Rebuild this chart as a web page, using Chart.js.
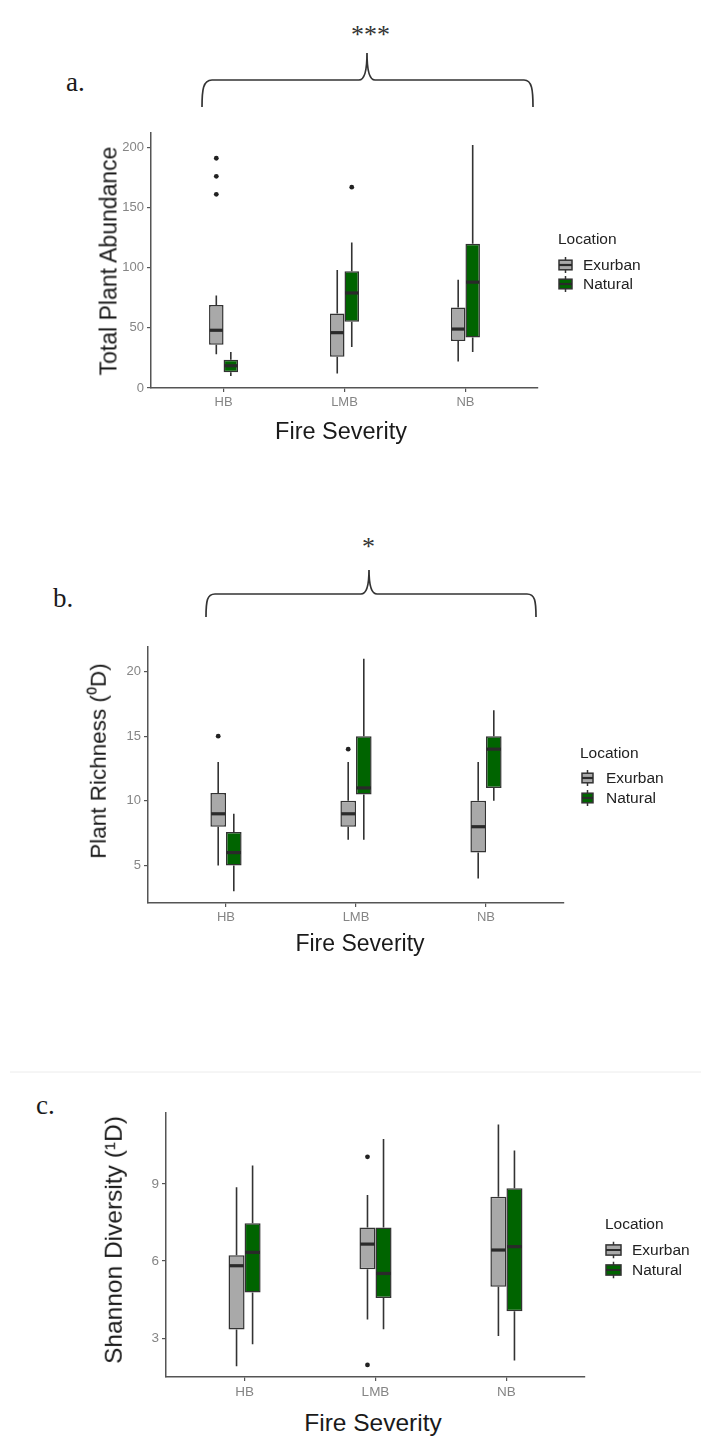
<!DOCTYPE html>
<html>
<head>
<meta charset="utf-8">
<script src="https://cdn.jsdelivr.net/npm/chart.js@4.4.1/dist/chart.umd.min.js"></script>
<style>
  body { margin: 0; background: #fff; }
  #page { position: relative; width: 701px; height: 1444px; overflow: hidden; font-family: "Liberation Sans", Arial, sans-serif; }
  canvas { position: absolute; }
  .t { position: absolute; white-space: nowrap; line-height: 1; transform: translateY(-50%); color: #1a1a1a; }
  .serif { font-family: "Liberation Serif", "Times New Roman", serif; }
  .ytitle { position: absolute; white-space: nowrap; line-height: 1; color: #1a1a1a; transform: translate(-50%, -50%) rotate(-90deg); }
  .xtitle { position: absolute; white-space: nowrap; line-height: 1; color: #1a1a1a; transform: translate(-50%, -50%); }
  .leg { position: absolute; overflow: hidden; font-size: 15.5px; color: #222; }
  .leg div { position: absolute; white-space: nowrap; line-height: 1; transform: translateY(-50%); }
  .leg svg { position: absolute; transform: translateY(-50%); }
  svg.brace { position: absolute; left: 0; top: 0; }
</style>
</head>
<body>
<div id="page">
  <svg class="brace" width="701" height="1100">
    <path d="M202,107 C202,90 203,80 212,80 L359,80 C364,80 367,72 367,53 C367,72 370,80 375,80 L524,80 C532,80 533,90 533,107" fill="none" stroke="#333" stroke-width="1.7"/>
    <path d="M206,617 C206,601 207,594 215,594 L361,594 C366,594 369,586 369,570 C369,586 372,594 377,594 L527,594 C535,594 536,601 536,617" fill="none" stroke="#333" stroke-width="1.7"/>
    <line x1="10" y1="1072" x2="701" y2="1072" stroke="#ececec" stroke-width="1"/>
  </svg>

  <div class="t serif" style="left:66px; top:82px; font-size:27px;">a.</div>
  <div class="t serif" style="left:351px; top:35px; font-size:26px; color:#333;">***</div>
  <div class="t serif" style="left:362px; top:547px; font-size:26px; color:#333;">*</div>
  <div class="t serif" style="left:53px; top:598px; font-size:27px;">b.</div>
  <div class="t serif" style="left:36px; top:1105px; font-size:27px;">c.</div>

  <canvas id="chartA" width="480" height="300" style="left:80px; top:120px;"></canvas>
  <canvas id="chartB" width="500" height="300" style="left:80px; top:630px;"></canvas>
  <canvas id="chartC" width="515" height="310" style="left:90px; top:1095px;"></canvas>

  <div class="ytitle" style="left:109px; top:261px; font-size:23px;">Total Plant Abundance</div>
  <div class="xtitle" style="left:341px; top:432px; font-size:23.5px;">Fire Severity</div>
  <div class="ytitle" style="left:99px; top:761px; font-size:22.5px;">Plant Richness (⁰D)</div>
  <div class="xtitle" style="left:360px; top:943px; font-size:23px;">Fire Severity</div>
  <div class="ytitle" style="left:114px; top:1240px; font-size:24.5px;">Shannon Diversity (¹D)</div>
  <div class="xtitle" style="left:373px; top:1423px; font-size:24.5px;">Fire Severity</div>

  <div id="legA" class="leg" style="left:556px; top:220px; width:84px; height:80px;"></div>
  <div id="legB" class="leg" style="left:578px; top:735px; width:123px; height:80px;"></div>
  <div id="legC" class="leg" style="left:603px; top:1205px; width:98px; height:80px;"></div>
</div>

<script>
// fire severity classes
const categories = ['HB', 'LMB', 'NB'];
const seriesNames = ['Exurban', 'Natural'];

// box stats per class: [lower whisker, Q1, median, Q3, upper whisker]
const abundanceExurban = [[28, 36, 48, 69, 77], [12, 26, 46, 62, 98], [22, 39, 49, 67, 90]];
const abundanceNatural = [[10, 13, 18.5, 23.5, 30], [34, 55, 79, 97, 121], [30, 42, 88, 120, 202]];
const abundanceExurbanOut = [[161, 176, 191], [], []];
const abundanceNaturalOut = [[], [167], []];
const abundanceTicks = [0, 50, 100, 150, 200];

const richnessExurban = [[5, 8, 9, 10.6, 13], [7, 8, 9, 10, 13], [4, 6, 8, 10, 13]];
const richnessNatural = [[3, 5, 6, 7.6, 9], [7, 10.5, 11, 15, 21], [10, 11, 14, 15, 17]];
const richnessExurbanOut = [[15], [14], []];
const richnessNaturalOut = [[], [], []];
const richnessTicks = [5, 10, 15, 20];

const shannonExurban = [[1.92, 3.34, 5.82, 6.23, 8.87], [3.73, 5.68, 6.66, 7.3, 8.57], [3.09, 5.0, 6.43, 8.5, 11.3]];
const shannonNatural = [[2.77, 4.78, 6.34, 7.47, 9.71], [3.35, 4.57, 5.52, 7.3, 10.74], [2.14, 4.05, 6.56, 8.83, 10.29]];
const shannonExurbanOut = [[], [10.05, 1.97], []];
const shannonNaturalOut = [[], [], []];
const shannonTicks = [3, 6, 9];

const fills = ['#a9a9a9', '#006400'];
const ink = '#333333';
const axisCol = '#555555';
const tickCol = '#858585';

Chart.defaults.font.family = '"Liberation Sans", Arial, sans-serif';

// whiskers under the boxes, medians and outliers on top
function drawParts(chart, stage) {
  const ctx = chart.ctx;
  const y = chart.scales.y;
  chart.data.datasets.forEach((ds, di) => {
    const meta = chart.getDatasetMeta(di);
    meta.data.forEach((bar, i) => {
      const s = ds.stats[i];
      const half = bar.width / 2;
      ctx.save();
      if (stage === 'under') {
        ctx.strokeStyle = ink;
        ctx.lineWidth = 1.6;
        ctx.beginPath();
        ctx.moveTo(bar.x, y.getPixelForValue(s[0]));
        ctx.lineTo(bar.x, y.getPixelForValue(s[1]));
        ctx.moveTo(bar.x, y.getPixelForValue(s[3]));
        ctx.lineTo(bar.x, y.getPixelForValue(s[4]));
        ctx.stroke();
      } else {
        ctx.strokeStyle = '#2a2a2a';
        ctx.lineWidth = 3.2;
        const my = y.getPixelForValue(s[2]);
        ctx.beginPath();
        ctx.moveTo(bar.x - half + 0.7, my);
        ctx.lineTo(bar.x + half - 0.7, my);
        ctx.stroke();
        ctx.fillStyle = '#222';
        ds.outliers[i].forEach(v => {
          ctx.beginPath();
          ctx.arc(bar.x, y.getPixelForValue(v), 2.4, 0, Math.PI * 2);
          ctx.fill();
        });
      }
      ctx.restore();
    });
  });
}

const boxParts = {
  id: 'boxParts',
  beforeDatasetsDraw(chart) { drawParts(chart, 'under'); },
  afterDatasetsDraw(chart) { drawParts(chart, 'over'); }
};

function makeBoxChart(id, ex, nat, exOut, natOut, yMin, yMax, yTicks, p) {
  const sets = [ex, nat].map((stats, k) => ({
    label: seriesNames[k],
    data: stats.map((s, i) => ({ x: i + 1, y: [s[1], s[3]] })),
    stats: stats,
    outliers: k === 0 ? exOut : natOut,
    backgroundColor: fills[k],
    borderColor: ink,
    borderWidth: 1.5,
    borderSkipped: false,
    categoryPercentage: p.cat,
    barPercentage: 1
  }));
  return new Chart(document.getElementById(id), {
    type: 'bar',
    data: { datasets: sets },
    plugins: [boxParts],
    options: {
      responsive: false,
      animation: false,
      layout: { padding: p.pad },
      plugins: { legend: { display: false }, tooltip: { enabled: false } },
      scales: {
        x: {
          type: 'linear',
          min: 0.4,
          max: 3.6,
          offset: false,
          afterBuildTicks: s => { s.ticks = categories.map((c, i) => ({ value: i + 1 })); },
          afterFit: s => { s.height = 25; },
          ticks: { callback: v => categories[v - 1], color: tickCol, font: { size: p.tick }, padding: 3 },
          grid: { offset: false, drawOnChartArea: false, drawTicks: true, tickLength: 4, color: axisCol, lineWidth: 1.2 },
          border: { color: axisCol, width: 1.5 }
        },
        y: {
          min: yMin,
          max: yMax,
          afterBuildTicks: s => { s.ticks = yTicks.map(v => ({ value: v })); },
          afterFit: s => { s.width = p.yw; },
          ticks: { color: tickCol, font: { size: p.tick }, padding: 3 },
          grid: { drawOnChartArea: false, drawTicks: true, tickLength: 4, color: axisCol, lineWidth: 1.2 },
          border: { color: axisCol, width: 1.5 }
        }
      }
    }
  });
}

makeBoxChart('chartA', abundanceExurban, abundanceNatural, abundanceExurbanOut, abundanceNaturalOut,
  0, 212, abundanceTicks, { cat: 0.24, yw: 71, tick: 13, pad: { left: 0, top: 13, right: 22, bottom: 7 } });
makeBoxChart('chartB', richnessExurban, richnessNatural, richnessExurbanOut, richnessNaturalOut,
  2.1, 21.9, richnessTicks, { cat: 0.24, yw: 68, tick: 13, pad: { left: 0, top: 17, right: 16, bottom: 2 } });
makeBoxChart('chartC', shannonExurban, shannonNatural, shannonExurbanOut, shannonNaturalOut,
  1.5, 11.75, shannonTicks, { cat: 0.245, yw: 76, tick: 13.5, pad: { left: 0, top: 18, right: 20, bottom: 3 } });

// ggplot-style legend: title plus a small box glyph per series
function makeLegend(id, o) {
  const el = document.getElementById(id);
  let html = '<div style="left:' + o.titleX + 'px; top:' + o.titleY + 'px;">Location</div>';
  seriesNames.forEach((name, k) => {
    const cy = o.rowY[k];
    const w = o.keyW, h = o.keyH;
    html += '<svg width="' + (w + 2) + '" height="' + h + '" style="left:' + o.keyX + 'px; top:' + cy + 'px;">' +
      '<line x1="' + (w / 2 + 1) + '" y1="0" x2="' + (w / 2 + 1) + '" y2="' + h + '" stroke="' + ink + '" stroke-width="1.5"/>' +
      '<rect x="1" y="' + (h * 0.2) + '" width="' + w + '" height="' + (h * 0.6) + '" fill="' + fills[k] + '" stroke="' + ink + '" stroke-width="1.5"/>' +
      '<line x1="1" y1="' + (h / 2) + '" x2="' + (w + 1) + '" y2="' + (h / 2) + '" stroke="#2a2a2a" stroke-width="2.2"/>' +
      '</svg>';
    html += '<div style="left:' + o.textX + 'px; top:' + cy + 'px;">' + name + '</div>';
  });
  el.innerHTML = html;
}

makeLegend('legA', { titleX: 2, titleY: 19, keyX: 2, keyW: 13, keyH: 16, textX: 27, rowY: [45, 64] });
makeLegend('legB', { titleX: 2, titleY: 18, keyX: 3, keyW: 11, keyH: 16, textX: 28, rowY: [43, 63] });
makeLegend('legC', { titleX: 2, titleY: 19, keyX: 2, keyW: 15, keyH: 17, textX: 29, rowY: [45, 65] });
</script>
</body>
</html>
